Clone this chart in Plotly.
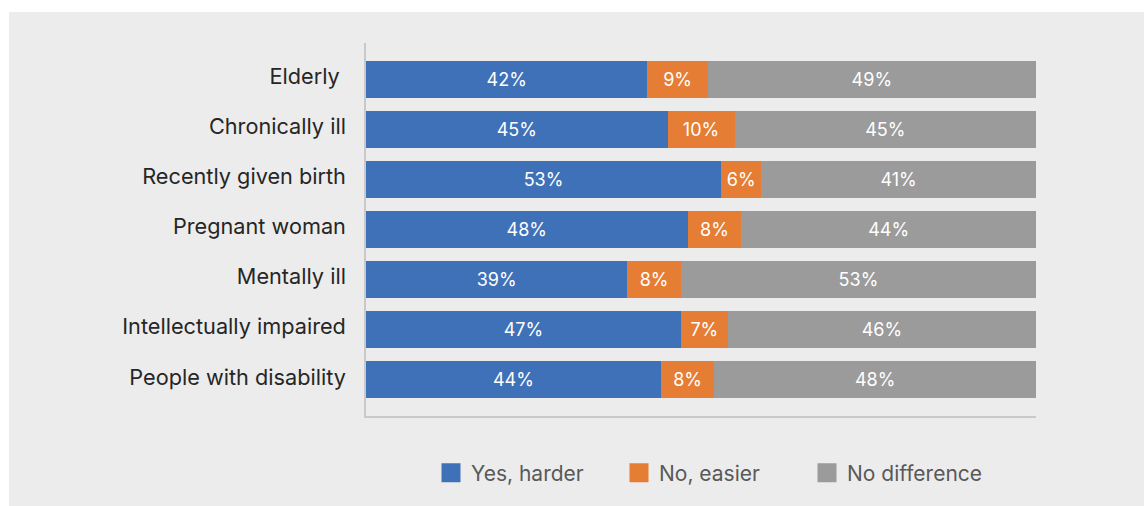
import plotly.graph_objects as go

# Survey groups, top to bottom
categories = [
    "Elderly\u00a0",
    "Chronically ill",
    "Recently given birth",
    "Pregnant woman",
    "Mentally ill",
    "Intellectually impaired",
    "People with disability",
]

# Share of responses per group (%)
yes_harder = [42, 45, 53, 48, 39, 47, 44]
no_easier = [9, 10, 6, 8, 8, 7, 8]
no_difference = [49, 45, 41, 44, 53, 46, 48]

series_names = ["Yes, harder", "No, easier", "No difference"]
series_values = [yes_harder, no_easier, no_difference]
series_colors = ["#3f71b8", "#e57d34", "#9b9b9b"]

FONT = "Inter"
W, H = 1144, 506
L, R, T, B = 366, 108, 43, 90

fig = go.Figure()
for name, vals, col in zip(series_names, series_values, series_colors):
    fig.add_trace(go.Bar(
        y=categories,
        x=vals,
        name=name,
        legendgroup=name,
        showlegend=False,
        orientation="h",
        marker=dict(color=col, line=dict(width=0)),
        width=0.737,
        text=[f"{v}%" for v in vals],
        textposition="inside",
        insidetextanchor="middle",
        textangle=0,
        textfont=dict(family=FONT, size=18, color="white"),
        hoverinfo="skip",
    ))

# Legend entries with larger square keys
for name, col in zip(series_names, series_colors):
    fig.add_trace(go.Scatter(
        x=[None], y=[None], mode="markers", name=name, legendgroup=name,
        marker=dict(symbol="square", size=16, color=col,
                    line=dict(width=3, color=col)),
        showlegend=True,
    ))

# Light grey panel behind the chart
plot_w = W - L - R
plot_h = H - T - B
fig.add_shape(
    type="rect", xref="paper", yref="paper", layer="below",
    x0=(9 - L) / plot_w, x1=(W - L) / plot_w,
    y0=-(H - T - plot_h) / plot_h, y1=1 + (T - 12) / plot_h,
    fillcolor="#ececec", line=dict(width=0),
)

fig.update_layout(
    width=W, height=H,
    margin=dict(l=L, r=R, t=T, b=B, pad=0),
    barmode="stack",
    paper_bgcolor="white",
    plot_bgcolor="rgba(0,0,0,0)",
    font=dict(family=FONT, color="#262626"),
    uniformtext=dict(minsize=18, mode="show"),
    showlegend=True,
    legend=dict(
        orientation="h",
        x=(444 - 13 - L) / plot_w, xanchor="left",
        y=-(473 - T - plot_h) / plot_h, yanchor="middle",
        font=dict(family=FONT, size=21, color="#595959"),
        bgcolor="rgba(0,0,0,0)",
        itemsizing="trace",
        entrywidth=143,
        traceorder="normal",
    ),
    xaxis=dict(
        range=[0, 100], showgrid=False, zeroline=False,
        showticklabels=False, showline=True, linecolor="#c9c9c9",
        linewidth=1.5, fixedrange=True,
    ),
    yaxis=dict(
        type="category", range=[6.72, -0.72], showgrid=False,
        zeroline=False, showline=True, linecolor="#c9c9c9", linewidth=1.5,
        ticks="", ticklabelstandoff=14, ticklabelshift=3,
        tickfont=dict(family=FONT, size=21.7, color="#262626"),
    ),
)

fig.write_html("out.html")
